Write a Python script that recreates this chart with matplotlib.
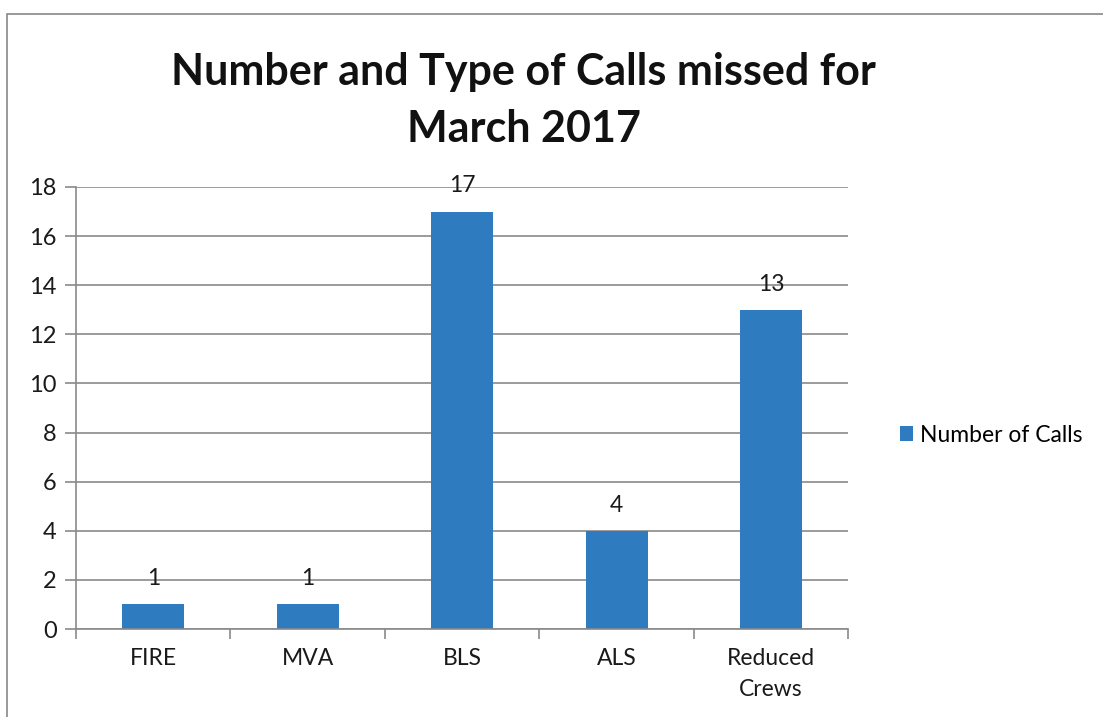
import matplotlib.pyplot as plt
from matplotlib.patches import Rectangle
import numpy as np

categories = ['FIRE', 'MVA', 'BLS', 'ALS', 'Reduced\nCrews']
calls = [1, 1, 17, 4, 13]
series_name = 'Number of Calls'
title = 'Number and Type of Calls missed for\nMarch 2017'

plt.rcParams['font.family'] = ['Lato', 'DejaVu Sans']

fig = plt.figure(figsize=(11.03, 7.17), dpi=100)
ax = fig.add_axes([0.0689, 0.1227, 0.7003, 0.6165])

bar_color = '#2f7bbf'
grid_color = '#8a8a8a'

x = np.arange(len(categories))
bars = ax.bar(x, calls, width=0.4, color=bar_color, label=series_name, zorder=2)

# data labels above bars
for xi, v in zip(x, calls):
    ax.annotate(str(v), (xi, v), xytext=(0, 11), textcoords='offset points',
                ha='center', va='bottom', fontsize=16.5, color='#1a1a1a')

ax.set_xlim(-0.5, len(categories) - 0.5)
ax.set_ylim(0, 18)
ax.set_yticks(range(0, 19, 2))
ax.yaxis.grid(True, color=grid_color, linewidth=1.2, zorder=0)
ax.set_axisbelow(True)

# category ticks at boundaries
ax.set_xticks(np.arange(-0.5, len(categories), 1.0))
ax.set_xticklabels([])
ax.set_xticks(x, minor=True)
ax.set_xticklabels(categories, minor=True, fontsize=16.5, color='#1a1a1a',
                   linespacing=1.55)
ax.tick_params(axis='x', which='minor', length=0, pad=14)
ax.tick_params(axis='x', which='major', length=7, color=grid_color, width=1.2)
ax.tick_params(axis='y', length=8, color=grid_color, width=1.2, labelsize=17,
               labelcolor='#1a1a1a', pad=6)

for side in ['top', 'right']:
    ax.spines[side].set_visible(False)
for side in ['left', 'bottom']:
    ax.spines[side].set_color(grid_color)
    ax.spines[side].set_linewidth(1.2)

fig.text(0.475, 0.86, title, ha='center', va='center', fontsize=31,
         fontweight='bold', color='#111111', linespacing=1.5)

leg = fig.legend(handles=[bars], labels=[series_name], loc='center left',
                 bbox_to_anchor=(0.797, 0.393), frameon=False, fontsize=16.5,
                 handlelength=0.6, handleheight=0.6, handletextpad=0.3)

# outer chart frame
fig.patches.append(Rectangle((0.0065, -0.05), 1.1, 1.03, transform=fig.transFigure,
                             fill=False, edgecolor='#888888', linewidth=1.2))

fig.savefig('out.png', dpi=100)
